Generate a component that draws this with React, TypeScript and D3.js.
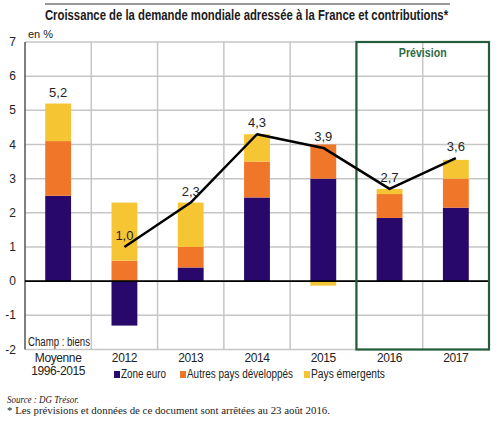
import React, { useLayoutEffect, useRef, useState } from "react";
import * as d3 from "d3";

const categories = ["Moyenne\n1996-2015", "2012", "2013", "2014", "2015", "2016", "2017"];
const zoneEuro = [2.5, -1.3, 0.4, 2.45, 3.0, 1.85, 2.15];
const autresPays = [1.6, 0.6, 0.6, 1.05, 1.0, 0.7, 0.85];
const paysEmergents = [1.1, 1.7, 1.3, 0.8, -0.13, 0.15, 0.55];
const totals = [5.2, 1.0, 2.3, 4.3, 3.9, 2.7, 3.6];
const yTicks = [-2, -1, 0, 1, 2, 3, 4, 5, 6, 7];
const seriesNames = ["Zone euro", "Autres pays développés", "Pays émergents"];
const seriesColors = ["#28086a", "#f0772a", "#f6c534"];
const forecastYears = ["2016", "2017"];
const titleText = "Croissance de la demande mondiale adressée à la France et contributions*";

const W = 500;
const H = 426;
const left = 25;
const right = 489;
const titleWidth = 403;

export default function App() {
  const titleRef = useRef<SVGTextElement>(null);
  const [titleScale, setTitleScale] = useState(0.81);

  // condense the bold title horizontally to its target width
  useLayoutEffect(() => {
    const el = titleRef.current;
    if (el) {
      const natural = el.getComputedTextLength();
      if (natural > 0) setTitleScale(titleWidth / natural);
    }
  }, []);

  const x = d3.scaleBand<string>().domain(categories).range([left, right]).padding(0);
  const y = d3.scaleLinear().domain([-2, 7]).range([349.5, 42]);
  const barW = x.bandwidth() * 0.39;
  const cx = (c: string) => (x(c) ?? 0) + x.bandwidth() / 2;

  const rows = categories.map((c, i) => ({
    cat: c,
    s0: zoneEuro[i],
    s1: autresPays[i],
    s2: paysEmergents[i],
  }));
  const stack = d3
    .stack<any>()
    .keys(["s0", "s1", "s2"])
    .offset(d3.stackOffsetDiverging);
  const layers = stack(rows);

  // the line only covers the yearly points, not the long-run average
  const lineIdx = categories.map((_, i) => i).filter((i) => i > 0);
  const line = d3
    .line<number>()
    .x((i) => cx(categories[i]))
    .y((i) => y(totals[i]));

  const fx0 = x(forecastYears[0]) ?? 0;
  const fx1 = (x(forecastYears[forecastYears.length - 1]) ?? 0) + x.bandwidth();

  const sans = "'Liberation Sans', Arial, sans-serif";
  const serif = "'Liberation Serif', 'Times New Roman', serif";

  const legendItems = [
    { x: 114, w: 45, label: seriesNames[0], color: seriesColors[0] },
    { x: 180, w: 106, label: seriesNames[1], color: seriesColors[1] },
    { x: 304, w: 74, label: seriesNames[2], color: seriesColors[2] },
  ];

  return (
    <svg
      width={W}
      height={H}
      style={{ position: "absolute", left: 0, top: 0, background: "#fff" }}
    >
      {/* title */}
      <line x1={45} x2={450} y1={4} y2={4} stroke="#333" strokeWidth={1} />
      <g transform={`translate(246.5,20) scale(${titleScale},1)`}>
        <text
          ref={titleRef}
          x={0}
          y={0}
          textAnchor="middle"
          fontFamily={sans}
          fontWeight="bold"
          fontSize={14}
          fill="#1a1a1a"
        >
          {titleText}
        </text>
      </g>
      <text x={28} y={38} fontFamily={sans} fontSize={11} fill="#222">
        en %
      </text>

      {/* grid */}
      {yTicks.map((t) => (
        <line key={"h" + t} x1={left} x2={right} y1={y(t)} y2={y(t)} stroke="#c6c6c6" strokeWidth={1.5} />
      ))}
      {categories.map((c) => (
        <line
          key={"v" + c}
          x1={(x(c) ?? 0) + x.bandwidth()}
          x2={(x(c) ?? 0) + x.bandwidth()}
          y1={y(7)}
          y2={y(-2)}
          stroke="#c6c6c6"
          strokeWidth={1.5}
        />
      ))}
      <line x1={left} x2={left} y1={y(7)} y2={y(-2)} stroke="#555" strokeWidth={1.5} />

      {/* y tick labels */}
      {yTicks.map((t) => (
        <text
          key={"yl" + t}
          x={16}
          y={y(t) + 4}
          textAnchor="end"
          fontFamily={sans}
          fontSize={12}
          fill="#222"
        >
          {t}
        </text>
      ))}

      {/* stacked bars */}
      {layers.map((layer, li) => (
        <g key={"layer" + li} fill={seriesColors[li]}>
          {layer.map((d, i) => {
            const c = categories[i];
            const y0 = y(Math.max(d[0], d[1]));
            const y1 = y(Math.min(d[0], d[1]));
            return <rect key={c} x={cx(c) - barW / 2} y={y0} width={barW} height={Math.max(0, y1 - y0)} />;
          })}
        </g>
      ))}

      {/* zero line */}
      <line x1={left} x2={right} y1={y(0)} y2={y(0)} stroke="#000" strokeWidth={1.8} />

      {/* forecast frame */}
      <rect x={fx0} y={y(7)} width={fx1 - fx0} height={y(-2) - y(7)} fill="none" stroke="#245c3c" strokeWidth={2.2} />
      <g transform={`translate(${(fx0 + fx1) / 2},57) scale(0.85,1)`}>
        <text
          x={0}
          y={0}
          textAnchor="middle"
          fontFamily={sans}
          fontWeight="bold"
          fontSize={12.5}
          fill="#2f6b45"
        >
          Prévision
        </text>
      </g>

      {/* total line */}
      <path d={line(lineIdx) ?? ""} fill="none" stroke="#000" strokeWidth={2.5} strokeLinejoin="round" />

      {/* total labels */}
      {totals.map((v, i) => (
        <text
          key={"tl" + i}
          x={cx(categories[i])}
          y={y(v) - 7}
          textAnchor="middle"
          fontFamily={sans}
          fontSize={13}
          fill="#222"
        >
          {v.toFixed(1).replace(".", ",")}
        </text>
      ))}

      <text
        x={28}
        y={346}
        fontFamily={sans}
        fontSize={12}
        fill="#222"
        textLength={62}
        lengthAdjust="spacingAndGlyphs"
      >
        Champ : biens
      </text>

      {/* x labels */}
      {categories.map((c) =>
        c.split("\n").map((part, k) => (
          <text
            key={c + k}
            x={cx(c)}
            y={362 + k * 13}
            textAnchor="middle"
            fontFamily={sans}
            fontSize={12}
            fill="#222"
            letterSpacing={-0.4}
          >
            {part}
          </text>
        ))
      )}

      {/* legend */}
      {legendItems.map((it) => (
        <g key={it.label}>
          <rect x={it.x} y={371} width={6} height={7} fill={it.color} />
          <text
            x={it.x + 7}
            y={378}
            fontFamily={sans}
            fontSize={12}
            fill="#222"
            textLength={it.w}
            lengthAdjust="spacingAndGlyphs"
          >
            {it.label}
          </text>
        </g>
      ))}

      {/* notes */}
      <text
        x={7}
        y={403}
        fontFamily={serif}
        fontStyle="italic"
        fontSize={10}
        fill="#222"
        textLength={72}
        lengthAdjust="spacingAndGlyphs"
      >
        Source : DG Trésor.
      </text>
      <text
        x={7}
        y={414}
        fontFamily={serif}
        fontSize={10.5}
        fill="#222"
        textLength={323}
        lengthAdjust="spacingAndGlyphs"
      >
        * Les prévisions et données de ce document sont arrêtées au 23 août 2016.
      </text>
    </svg>
  );
}
